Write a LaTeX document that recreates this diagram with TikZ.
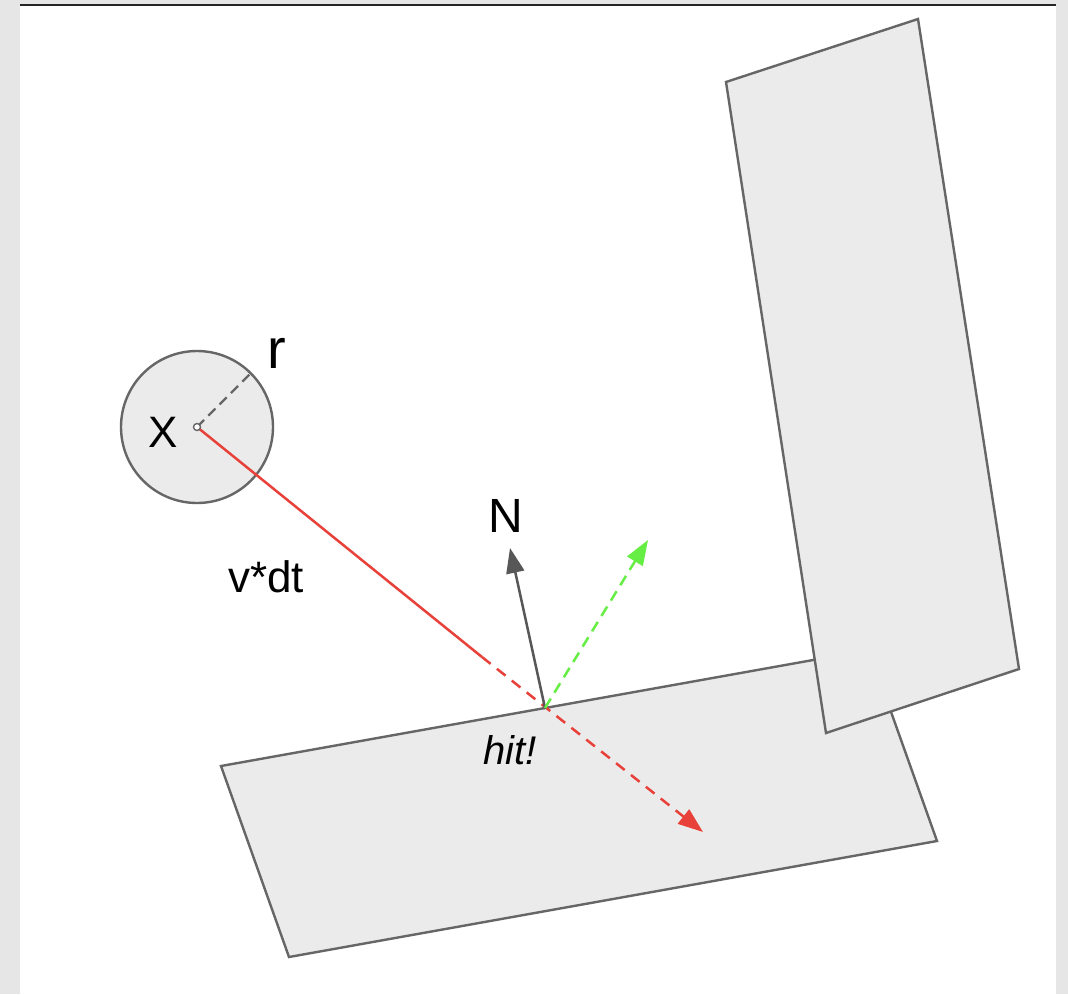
\documentclass[tikz,border=0pt]{standalone}
\usepackage{fontspec}
\setmainfont{Liberation Sans}
\usepackage{xcolor}
\definecolor{bggrey}{HTML}{E6E6E6}
\definecolor{slab}{HTML}{EBEBEB}
\definecolor{edge}{HTML}{666666}
\definecolor{hitred}{HTML}{E8413A}
\definecolor{bounce}{HTML}{66EE44}
\usetikzlibrary{arrows.meta}

\begin{document}
\begin{tikzpicture}[x=1pt,y=-1pt,>={Triangle[length=25pt,width=18pt]}]
\tikzset{
 wall/.style={draw=edge,fill=slab,line width=2.4pt,line join=miter},
 lbl/.style={inner sep=0pt,font=\fontsize{44}{50}\selectfont},
 ray/.style={draw=hitred,line width=2.5pt},
 arrow/.style={->,line width=2.5pt}
}
% frame
\fill[bggrey] (0,0) rectangle (1068,994);
\fill[white] (20,5) rectangle (1056,994);
\draw[line width=2pt,black!85] (20,4.5) -- (1056,4.5);
\useasboundingbox (0,0) rectangle (1068,994);
% walls
\draw[wall] (221,766) -- (869,650) -- (937,841) -- (289,957) -- cycle;
\draw[wall] (726,82) -- (918,19) -- (1019,669) -- (826,733) -- cycle;
% sphere
\node[draw=edge,fill=slab,line width=2.4pt,circle,minimum size=152pt,inner sep=0pt] (ball) at (197,427) {};
\coordinate (x) at (197,427);
\coordinate (rim) at (250,374);
\coordinate (split) at (482,657);
\coordinate (hit) at (545,708);
\coordinate (out) at (703,832);
\coordinate (ntip) at (510,548);
\coordinate (gtip) at (648,540);
\draw[edge,line width=2.4pt,dash pattern=on 10pt off 6pt] (x) -- (rim);
\draw[ray] (x) -- (split);
\draw[ray,dash pattern=on 11pt off 8pt,->,hitred] (split) -- (out);
\draw[arrow,edge!85!black,shorten <=-1pt] (hit) -- (ntip);
\draw[arrow,bounce,dash pattern=on 11pt off 7pt] (hit) -- (gtip);
\draw[edge,line width=1.4pt,fill=white] (x) circle (3.5pt);
% labels
\node[lbl] (xlbl) at (163,432) {X};
\node[lbl,font=\fontsize{56}{62}\selectfont] (rlbl) at (277,353) {r};
\node[lbl,font=\fontsize{48}{54}\selectfont] (nlbl) at (506,516) {N};
\node[lbl,font=\fontsize{44}{50}\selectfont] (vlbl) at (266,577) {v*dt};
\node[lbl,font=\fontsize{40}{46}\selectfont\itshape] (hitlbl) at (510,750) {hit!};
\end{tikzpicture}
\end{document}
